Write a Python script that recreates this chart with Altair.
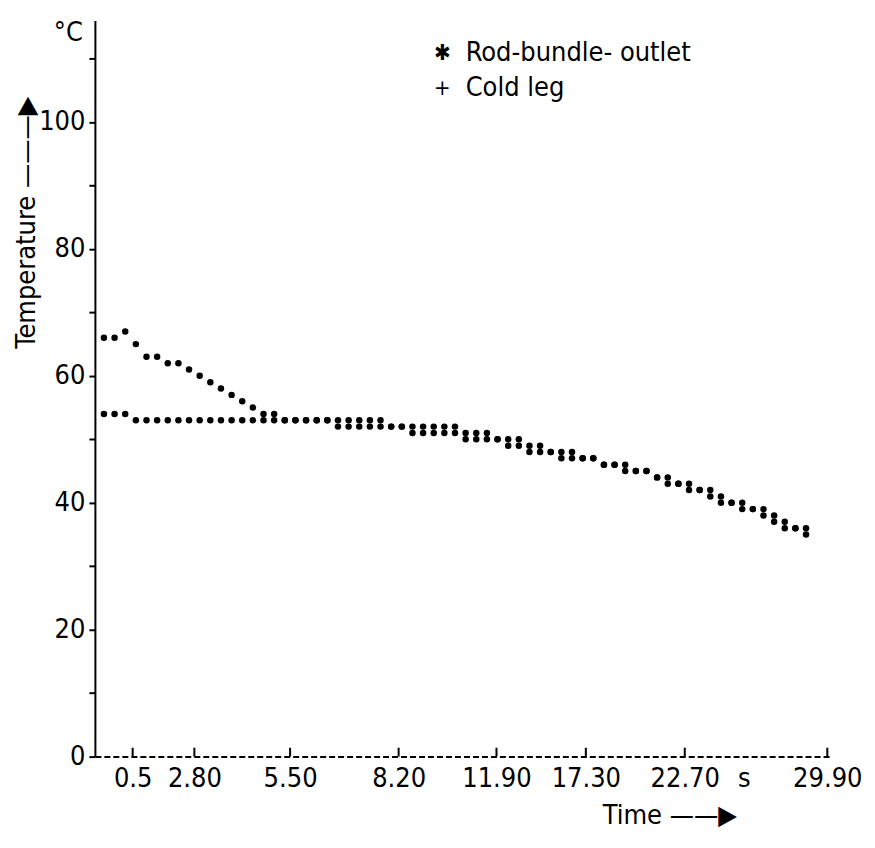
import altair as alt
import pandas as pd

# ---- data (sample index along the time axis) ----
rod_bundle_outlet = [66, 66, 67, 65, 63, 63, 62, 62, 61, 60, 59, 58, 57, 56, 55, 54, 54,
                     53, 53, 53, 53, 53, 53, 53, 53, 53, 53,
                     52, 52, 52, 52, 52, 52, 52,
                     51, 51, 51, 50, 50, 50, 49, 49, 48, 48, 48, 47, 47,
                     46, 46, 46, 45, 45, 44, 44, 43, 43, 42, 42, 41, 40, 40,
                     39, 39, 38, 37, 36, 36]
cold_leg = [54, 54, 54] + [53] * 19 + [52] * 7 + [51] * 5 + [50] * 4 + [49] * 2 + \
           [48] * 3 + [47] * 4 + [46] * 2 + [45] * 3 + [44] + [43] * 2 + [42] * 2 + \
           [41] + [40] * 2 + [39] * 2 + [38] + [37] + [36] * 2 + [35]

tick_pos = [2.7, 8.5, 17.5, 27.7, 36.9, 45.3, 54.6, 68.0]
tick_labels = ["0.5", "2.80", "5.50", "8.20", "11.90", "17.30", "22.70", "29.90"]

legend_symbols = ["✱", "+"]
legend_texts = ["Rod-bundle- outlet", "Cold leg"]
legend_y = [110.9, 105.4]

FONT = "DejaVu Sans Condensed"
FS = 27

n = len(rod_bundle_outlet)
df = pd.DataFrame({
    "i": list(range(n)) * 2,
    "T": rod_bundle_outlet + cold_leg,
    "series": ["Rod-bundle-outlet"] * n + ["Cold leg"] * n,
})

xscale = alt.Scale(domain=[-0.85, 68.35], nice=False, zero=False)
yscale = alt.Scale(domain=[0, 116], nice=False)

label_expr = "[" + ",".join(f"'{t}'" for t in tick_labels) + "][indexof([" + \
    ",".join(str(p) for p in tick_pos) + "], datum.value)]"

points = alt.Chart(df).mark_circle(size=42, color="black", opacity=1).encode(
    x=alt.X("i:Q", scale=xscale,
            axis=alt.Axis(values=tick_pos, labelExpr=label_expr, ticks=False,
                          grid=False, domainDash=[6, 3], domainWidth=2,
                          domainColor="black", labelPadding=9,
                          labelFont=FONT, labelFontSize=FS, labelColor="black",
                          title="Time ——▶", titleFont=FONT, titleFontSize=FS,
                          titleFontWeight="normal", titleColor="black",
                          titleX=575, titleY=46, titleAlign="center",
                          titleBaseline="top")),
    y=alt.Y("T:Q", scale=yscale,
            axis=alt.Axis(values=list(range(0, 111, 10)),
                          labelExpr="datum.value % 20 == 0 ? datum.label : ''",
                          grid=False, domainWidth=2, domainColor="black",
                          tickSize=6, tickWidth=2, tickColor="black",
                          labelPadding=4, labelFont=FONT, labelFontSize=FS,
                          labelColor="black",
                          title="Temperature ———▶", titleFont=FONT, titleFontSize=FS,
                          titleFontWeight="normal", titleColor="black",
                          titleAngle=270, titleX=-68, titleY=202,
                          titleAlign="center", titleBaseline="middle")),
)

ticks_df = pd.DataFrame({"p": tick_pos})
xticks = alt.Chart(ticks_df).mark_rule(color="black", strokeWidth=2).encode(
    x=alt.X("p:Q", scale=xscale),
    y=alt.datum(0),
    y2=alt.datum(1.4),
)

leg_df = pd.DataFrame({"sym": legend_symbols, "txt": legend_texts, "y": legend_y})
leg_sym = alt.Chart(leg_df).mark_text(font=FONT, fontSize=22, align="center",
                                      baseline="middle", color="black").encode(
    x=alt.datum(31.8), y=alt.Y("y:Q", scale=yscale), text="sym:N")
leg_txt = alt.Chart(leg_df).mark_text(font=FONT, fontSize=FS, align="left",
                                      baseline="middle", color="black").encode(
    x=alt.datum(34.0), y=alt.Y("y:Q", scale=yscale), text="txt:N")

unit_c = alt.Chart(pd.DataFrame({"t": ["°C"]})).mark_text(
    font=FONT, fontSize=FS, align="right", baseline="middle", color="black", dx=-12
).encode(x=alt.datum(-0.85), y=alt.datum(114), text="t:N")

unit_s = alt.Chart(pd.DataFrame({"t": ["s"]})).mark_text(
    font=FONT, fontSize=FS, align="center", baseline="middle", color="black", dy=22
).encode(x=alt.datum(60.2), y=alt.datum(0), text="t:N")

chart = alt.layer(points, xticks, leg_sym, leg_txt, unit_c, unit_s).properties(
    width=737, height=737,
    padding={"left": 87, "top": 12, "right": 36, "bottom": 80},
    autosize="none",
    background="white",
).configure_view(stroke=None)

chart.save("out.html", embed_options={"renderer": "svg", "actions": False})
